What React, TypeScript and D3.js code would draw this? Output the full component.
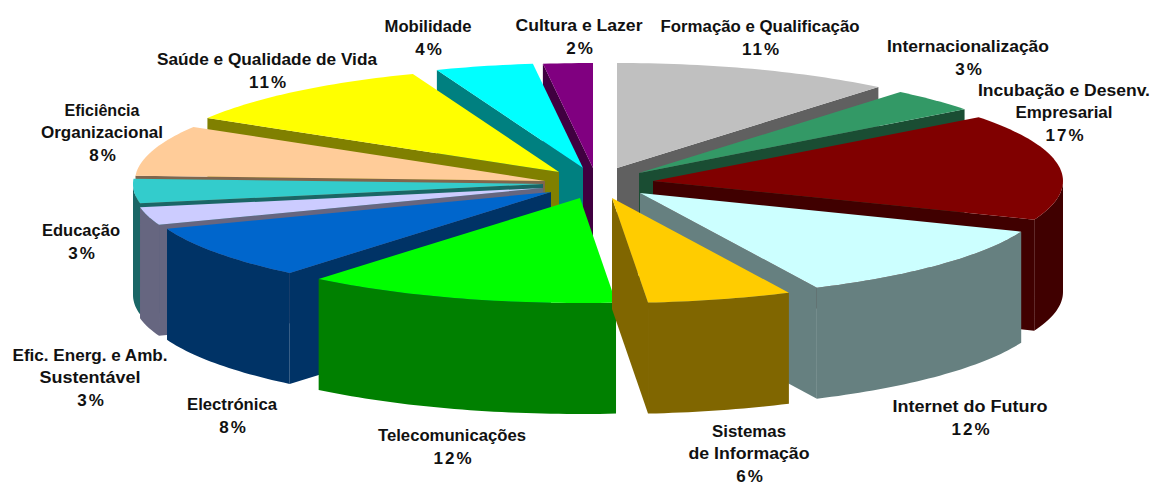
import React from "react";
import * as d3 from "d3";

const categories = [
  "Formação e Qualificação", "Internacionalização", "Incubação e Desenv. Empresarial",
  "Internet do Futuro", "Sistemas de Informação", "Telecomunicações", "Electrónica",
  "Efic. Energ. e Amb. Sustentável", "Educação", "Eficiência Organizacional",
  "Saúde e Qualidade de Vida", "Mobilidade", "Cultura e Lazer",
];
// Slice shares
const shares = [11, 3.6, 16.4, 11.9, 5.7, 12.4, 8.3, 2.75, 3.75, 7.8, 10.6, 3.85, 1.95];
// Percentages printed in the labels
const percentLabels = ["11%", "3%", "17%", "12%", "6%", "12%", "8%", "3%", "3%", "8%", "11%", "4%", "2%"];
const labelLines = [
  ["Formação e Qualificação"], ["Internacionalização"], ["Incubação e Desenv.", "Empresarial"],
  ["Internet do Futuro"], ["Sistemas", "de Informação"], ["Telecomunicações"], ["Electrónica"],
  ["Efic. Energ. e Amb.", "Sustentável"], ["Educação"], ["Eficiência", "Organizacional"],
  ["Saúde e Qualidade de Vida"], ["Mobilidade"], ["Cultura e Lazer"],
];

// Layout and style
const labelWidths = [
  [199], [162], [172, 97], [155], [74, 121], [148], [90], [155, 101], [78], [75, 122], [220], [87], [127],
];
const topColors = ["#C0C0C0", "#339966", "#800000", "#CCFFFF", "#FFCC00", "#00FF00", "#0066CC", "#CCCCFF", "#33CCCC", "#FFCC99", "#FFFF00", "#00FFFF", "#800080"];
const sideColors = ["#606060", "#1A4D33", "#400000", "#668080", "#806600", "#008000", "#003366", "#666680", "#1A6666", "#80664D", "#808000", "#008080", "#400040"];
const apexes: [number, number][] = [
  [617, 168], [639, 173], [653, 181], [640, 193], [612, 198], [580, 198], [551, 192],
  [543, 188], [543, 184], [545, 181], [559, 172], [583, 168], [593, 168],
];
const labelAnchors: [number, number][] = [
  [760, 32], [968, 52], [1064, 96], [970, 412], [749, 437], [452, 441], [232, 410],
  [90, 361], [81, 236], [102, 116], [267, 65], [428, 32], [579, 31],
];
const RX = 410, RY = 105, DEPTH = 111, LINE = 22;

const sx = d3.scaleLinear().domain([-1, 1]).range([-RX, RX]);
const sy = d3.scaleLinear().domain([-1, 1]).range([-RY, RY]);
const pieGen = d3.pie<number>().sort(null).value((d) => d);
const line = d3.line();

function rimPoint(a: number, i: number, dy = 0): [number, number] {
  const [cx, cy] = apexes[i];
  return [cx + sx(Math.sin(a)), cy + sy(-Math.cos(a)) + dy];
}
function arcPts(a0: number, a1: number, i: number, dy = 0) {
  const n = Math.max(2, Math.ceil((a1 - a0) / 0.02));
  return d3.range(n + 1).map((k) => rimPoint(a0 + ((a1 - a0) * k) / n, i, dy));
}
function wallPath(a: number, i: number) {
  const [cx, cy] = apexes[i];
  const r = rimPoint(a, i);
  return line([[cx, cy], r, [r[0], r[1] + DEPTH], [cx, cy + DEPTH]]) + "Z";
}

export default function App() {
  const arcs = pieGen(shares);
  const order = d3.range(arcs.length).sort((p, q) => {
    const m = (k: number) => Math.abs((arcs[k].startAngle + arcs[k].endAngle) / 2 - Math.PI);
    return m(q) - m(p);
  });
  return (
    <svg width={1151} height={483} viewBox="0 0 1151 483"
      style={{ position: "absolute", left: 0, top: 0, background: "#fff" }}>
      <g>
        {order.map((i) => {
          const { startAngle: a0, endAngle: a1 } = arcs[i];
          const [cx, cy] = apexes[i];
          const side = sideColors[i];
          const r0 = Math.max(a0, Math.PI / 2), r1 = Math.min(a1, (3 * Math.PI) / 2);
          const rim = r1 > r0
            ? line([...arcPts(r0, r1, i), ...arcPts(r0, r1, i, DEPTH).reverse()]) + "Z"
            : null;
          const top = line([[cx, cy], ...arcPts(a0, a1, i)]) + "Z";
          return (
            <g key={categories[i]}>
              {a0 > Math.PI && <path d={wallPath(a0, i)} fill={side} />}
              {a1 < Math.PI && <path d={wallPath(a1, i)} fill={side} />}
              {rim && <path d={rim} fill={side} />}
              <path d={top} fill={topColors[i]} />
            </g>
          );
        })}
      </g>
      <g fontFamily='"Liberation Sans", Arial, sans-serif' fontWeight={700} fontSize={16}
        fill="#111" textAnchor="middle">
        {categories.map((c, i) => {
          const [x, y] = labelAnchors[i];
          const n = labelLines[i].length;
          return (
            <g key={c}>
              {labelLines[i].map((t, k) => (
                <text key={k} x={x} y={y + k * LINE} textLength={labelWidths[i][k]} lengthAdjust="spacingAndGlyphs">{t}</text>
              ))}
              <text x={x + 1.5} y={y + n * LINE + 0.5} fontSize={17} letterSpacing={2}>{percentLabels[i]}</text>
            </g>
          );
        })}
      </g>
    </svg>
  );
}
